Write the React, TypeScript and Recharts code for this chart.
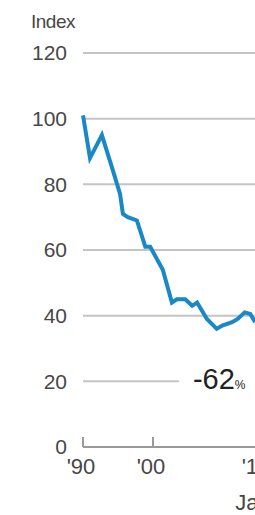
import { LineChart, Line, XAxis, YAxis, CartesianGrid, ReferenceDot } from "recharts";

// Index, 1990 = 100
const years = [
  1990.0, 1991.0, 1992.7, 1994.3, 1995.3, 1995.7, 1996.4, 1997.7, 1998.9, 1999.6, 2001.4, 2002.7,
  2003.4, 2004.6, 2005.6, 2006.3, 2007.7, 2009.1, 2009.9, 2011.3, 2012.1, 2013.1, 2013.9, 2014.6,
];
const values = [
  101, 88, 95, 84, 77, 71, 70, 69, 61, 61, 54, 44, 45, 45, 43, 44, 39, 36, 37, 38, 39, 41, 40.5, 38,
];

const yTicks = [0, 20, 40, 60, 80, 100, 120];
const xTicks = [1990, 2000, 2015];
const xTickLabels = ["'90", "'00", "'15"];
const xSubLabels = ["", "", "Jan."];

const unitLabel = "Index";
const changeLabel = "-62";
const changeUnit = "%";
const changeAt = { year: 2005.7, value: 20 };

const data = years.map((year, i) => ({ year, value: values[i] }));

const FONT = "'Liberation Sans', Arial, sans-serif";
const TEXT = "#474747";

function XTick(props: any) {
  const { x, y, payload } = props;
  const i = xTicks.indexOf(payload.value);
  return (
    <g>
      <line x1={x} x2={x} y1={y} y2={y - 10} stroke="#9a9a9a" strokeWidth={2} />
      <text x={x - 2} y={y + 27} textAnchor="middle" fontSize={22} fill={TEXT} fontFamily={FONT}>
        {xTickLabels[i]}
      </text>
      {xSubLabels[i] ? (
        <text x={x - 2} y={y + 63} textAnchor="middle" fontSize={22} fill={TEXT} fontFamily={FONT}>
          {xSubLabels[i]}
        </text>
      ) : null}
    </g>
  );
}

function ChangeLabel(props: any) {
  const { cx, cy } = props;
  return (
    <g>
      <rect x={cx - 14} y={cy - 18} width={200} height={36} fill="#ffffff" />
      <text x={cx} y={cy + 8} fontSize={29} fill="#222" fontFamily={FONT}>
        {changeLabel}
        <tspan fontSize={12}>{changeUnit}</tspan>
      </text>
    </g>
  );
}

export default function App() {
  return (
    <div style={{ width: 255, height: 515, overflow: "hidden", position: "relative", background: "#fff" }}>
      <style>{"body{margin:0}"}</style>
      <div
        style={{
          position: "absolute",
          left: 31,
          top: 11,
          fontSize: 19,
          fontFamily: FONT,
          color: TEXT,
          letterSpacing: -0.5,
        }}
      >
        {unitLabel}
      </div>
      <LineChart width={300} height={515} data={data} margin={{ top: 53, right: 0, left: 0, bottom: 0 }}>
        <CartesianGrid vertical={false} stroke="#c4c4c4" strokeWidth={2} />
        <XAxis
          dataKey="year"
          type="number"
          domain={[1990, 2021]}
          ticks={xTicks}
          tick={<XTick />}
          tickLine={false}
          tickSize={0}
          tickMargin={0}
          axisLine={{ stroke: "#9a9a9a", strokeWidth: 2 }}
          height={68}
          interval={0}
        />
        <YAxis
          type="number"
          domain={[0, 120]}
          ticks={yTicks}
          width={83}
          axisLine={false}
          tickLine={false}
          tickSize={0}
          tickMargin={16}
          tick={{ fontSize: 21, fill: TEXT, fontFamily: FONT }}
        />
        <ReferenceDot x={changeAt.year} y={changeAt.value} shape={<ChangeLabel />} />
        <Line
          dataKey="value"
          type="linear"
          stroke="#1a88c4"
          strokeWidth={4}
          dot={false}
          isAnimationActive={false}
        />
      </LineChart>
    </div>
  );
}
